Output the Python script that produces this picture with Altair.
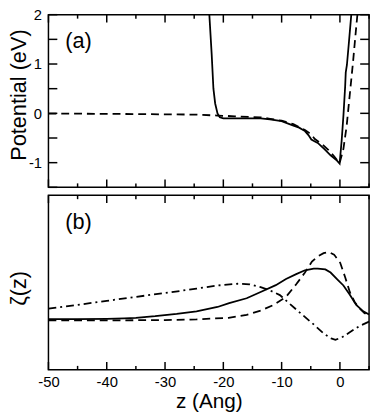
import altair as alt
import pandas as pd

# ---------------- Panel (a): potential ----------------
za_solid = [-22.4, -22.0, -21.7, -21.4, -21.0, -20.6, -20.0, -18.0, -15.0, -13.6, -12.0, -10.0,
            -8.2, -7.0, -6.0, -5.4, -4.9, -4.3, -3.8, -2.7, -1.6, -0.5, -0.05, 0.3, 0.6,
            0.9, 1.0, 1.2, 1.5, 1.95]
va_solid = [2.0, 1.2, 0.5, 0.2, 0.0, -0.08, -0.10, -0.10, -0.10, -0.10, -0.12, -0.16,
            -0.24, -0.29, -0.36, -0.44, -0.53, -0.57, -0.60, -0.72, -0.85, -0.96, -1.02, -0.55, -0.05,
            0.55, 0.83, 0.98, 1.38, 2.0]

za_dash = [-50, -40, -30, -25, -21, -18, -15, -13.6, -12, -10, -8, -6, -5, -4.3, -3, -2, -1,
           -0.05, 0.6, 1.15, 1.69, 2.24, 2.79, 3.0]
va_dash = [-0.005, -0.01, -0.02, -0.025, -0.045, -0.06, -0.075, -0.08, -0.11, -0.15, -0.22, -0.34,
           -0.42, -0.52, -0.63, -0.74, -0.87, -1.01, -0.72, -0.26, 0.38, 1.03, 1.74, 2.0]

# ---------------- Panel (b): zeta(z) ----------------
zb_solid = [-50, -45, -40, -37, -35, -31.7, -28, -24.6, -21, -19, -16, -13.6, -11, -9.25, -7.5,
            -6, -4.5, -3.8, -2.5, -1.6, -0.5, 0.6, 1.7, 2.8, 4, 5]
b_solid = [0.29, 0.29, 0.292, 0.295, 0.298, 0.307, 0.32, 0.335, 0.36, 0.382, 0.41, 0.446, 0.485,
           0.52, 0.548, 0.57, 0.58, 0.58, 0.575, 0.557, 0.52, 0.483, 0.43, 0.372, 0.335, 0.317]

zb_dash = [-50, -40, -30, -24.6, -19.1, -16, -13.6, -11.5, -9.25, -7.5, -6, -4.8, -3.8, -2.8,
           -1.87, -1, 0.05, 0.9, 1.69, 2.5, 3.33, 4.2, 5]
b_dash = [0.283, 0.283, 0.285, 0.289, 0.298, 0.315, 0.339, 0.37, 0.418, 0.49, 0.557, 0.62, 0.65,
          0.668, 0.674, 0.66, 0.613, 0.53, 0.446, 0.39, 0.354, 0.325, 0.307]

zb_dd = [-50, -45, -40, -35, -30, -24.6, -21, -17.5, -15.5, -13.6, -12, -10.3, -8.5, -6.5, -4.5,
         -2.7, -1.5, -0.77, 0.3, 1.69, 3.3, 5]
b_dd = [0.35, 0.372, 0.395, 0.418, 0.44, 0.465, 0.483, 0.493, 0.49, 0.474, 0.455, 0.428, 0.375,
        0.317, 0.26, 0.206, 0.18, 0.172, 0.185, 0.215, 0.25, 0.276]

# axis ranges and tick positions
x_range = [-50, 5]
ya_range = [-1.5, 2]
yb_range = [0, 1]
x_major = [-50, -40, -30, -20, -10, 0]
x_minor = [-45, -35, -25, -15, -5, 5]
ya_ticks = [-1.5, -1, -0.5, 0, 0.5, 1, 1.5, 2]

FONT = "Liberation Sans"
W = 325
H_TOP = 175
H_BOT = 177
LW = 1.8
TW = 1.5

xscale = alt.Scale(domain=x_range, nice=False, zero=False)
ya_scale = alt.Scale(domain=ya_range, nice=False, zero=False)
yb_scale = alt.Scale(domain=yb_range, nice=False, zero=False)

# inward tick glyphs (unit path scaled by sqrt(size)/2)
UP, DOWN, RIGHT, LEFT = "M0,0V-2", "M0,0V2", "M0,0H2", "M0,0H-2"


def df(z, v):
    return pd.DataFrame({"z": z, "v": v})


def tick_axis(orient, values, size, **kw):
    """Axis moved inward by `size`; its own ticks are kept but hidden, and
    drawn below the marks, so the tick glyph layers show on top."""
    base = dict(orient=orient, values=values, ticks=True, tickSize=size, offset=-size,
                domain=False, grid=False, tickColor="black", tickWidth=TW, tickOpacity=0,
                labels=False, title=None, minExtent=0, maxExtent=200, zindex=0)
    base.update(kw)
    return alt.Axis(**base)


def tick_layer(z, v, yscale, shape, length):
    return alt.Chart(df(z, v)).mark_point(
        shape=shape, size=length * length, filled=False, opacity=1,
        color="black", strokeWidth=TW
    ).encode(
        x=alt.X("z:Q", scale=xscale, axis=None),
        y=alt.Y("v:Q", scale=yscale, axis=None),
    )


def frame_ticks(yscale, y_lo, y_hi, y_ticks=None):
    layers = [
        tick_layer(x_major, [y_lo] * len(x_major), yscale, UP, 8),
        tick_layer(x_minor, [y_lo] * len(x_minor), yscale, UP, 4),
        tick_layer(x_major, [y_hi] * len(x_major), yscale, DOWN, 8),
        tick_layer(x_minor, [y_hi] * len(x_minor), yscale, DOWN, 4),
    ]
    if y_ticks:
        layers += [
            tick_layer([x_range[0]] * len(y_ticks), y_ticks, yscale, RIGHT, 9),
            tick_layer([x_range[1]] * len(y_ticks), y_ticks, yscale, LEFT, 9),
        ]
    return layers


# ---------------- top panel ----------------
top_solid = alt.Chart(df(za_solid, va_solid)).mark_line(
    color="black", strokeWidth=LW, clip=True
).encode(
    x=alt.X("z:Q", scale=xscale, axis=tick_axis("bottom", x_major, 8)),
    y=alt.Y("v:Q", scale=ya_scale, axis=tick_axis(
        "left", ya_ticks, 9,
        labels=True, labelExpr="datum.value % 1 == 0 ? '' + datum.value : ''",
        labelFont=FONT, labelFontSize=15, labelColor="black", labelPadding=7,
        title="Potential (eV)", titleFont=FONT, titleFontSize=22, titleFontWeight="normal",
        titleColor="black", titleX=-39, titleY=81, titleBaseline="middle")),
    order="z:Q",
)

top_dash = alt.Chart(df(za_dash, va_dash)).mark_line(
    color="black", strokeWidth=LW, strokeDash=[8, 5], clip=True
).encode(
    x=alt.X("z:Q", scale=xscale, axis=tick_axis("top", x_major, 8)),
    y=alt.Y("v:Q", scale=ya_scale, axis=tick_axis("right", ya_ticks, 9)),
    order="z:Q",
)

label_a = alt.Chart(pd.DataFrame({"lab": ["(a)"]})).mark_text(
    font=FONT, fontSize=22, align="left", baseline="middle", color="black"
).encode(x=alt.value(17), y=alt.value(27), text="lab:N")

top = alt.layer(
    top_solid, top_dash, label_a,
    *frame_ticks(ya_scale, ya_range[0], ya_range[1], ya_ticks),
).resolve_axis(x="independent", y="independent").properties(width=W, height=H_TOP)

# ---------------- bottom panel ----------------
bot_solid = alt.Chart(df(zb_solid, b_solid)).mark_line(
    color="black", strokeWidth=LW
).encode(
    x=alt.X("z:Q", scale=xscale, axis=tick_axis(
        "bottom", x_major, 8,
        labels=True, labelExpr="'' + datum.value", labelFlush=False,
        labelFont=FONT, labelFontSize=15, labelColor="black", labelPadding=5,
        title="z (Ang)", titleFont=FONT, titleFontSize=21, titleFontWeight="normal",
        titleColor="black", titlePadding=1)),
    y=alt.Y("v:Q", scale=yb_scale, axis=alt.Axis(
        orient="left", ticks=False, labels=False, domain=False, grid=False,
        minExtent=0, zindex=0,
        title="ζ(z)", titleFont=FONT, titleFontSize=22, titleFontWeight="normal",
        titleColor="black", titleX=-30, titleY=94, titleBaseline="middle")),
    order="z:Q",
)

bot_dash = alt.Chart(df(zb_dash, b_dash)).mark_line(
    color="black", strokeWidth=LW, strokeDash=[8, 5]
).encode(
    x=alt.X("z:Q", scale=xscale, axis=tick_axis("top", x_major, 8)),
    y=alt.Y("v:Q", scale=yb_scale, axis=None),
    order="z:Q",
)

bot_dd = alt.Chart(df(zb_dd, b_dd)).mark_line(
    color="black", strokeWidth=LW, strokeDash=[8, 4, 2, 4]
).encode(
    x=alt.X("z:Q", scale=xscale, axis=tick_axis("bottom", x_minor, 4)),
    y=alt.Y("v:Q", scale=yb_scale, axis=None),
    order="z:Q",
)

label_b = alt.Chart(pd.DataFrame({"lab": ["(b)"]})).mark_text(
    font=FONT, fontSize=22, align="left", baseline="middle", color="black"
).encode(x=alt.value(17), y=alt.value(27), text="lab:N")

bottom = alt.layer(
    bot_solid, bot_dash, bot_dd, label_b,
    *frame_ticks(yb_scale, yb_range[0], yb_range[1]),
).resolve_axis(x="independent", y="independent").properties(width=W, height=H_BOT)

chart = alt.vconcat(top, bottom, spacing=0).properties(
    padding={"top": -4, "left": -1, "right": 0, "bottom": 0},
    background="white",
).configure_view(
    stroke="black", strokeWidth=1.5
)

chart.save("out.html", embed_options={"renderer": "svg", "actions": False})
